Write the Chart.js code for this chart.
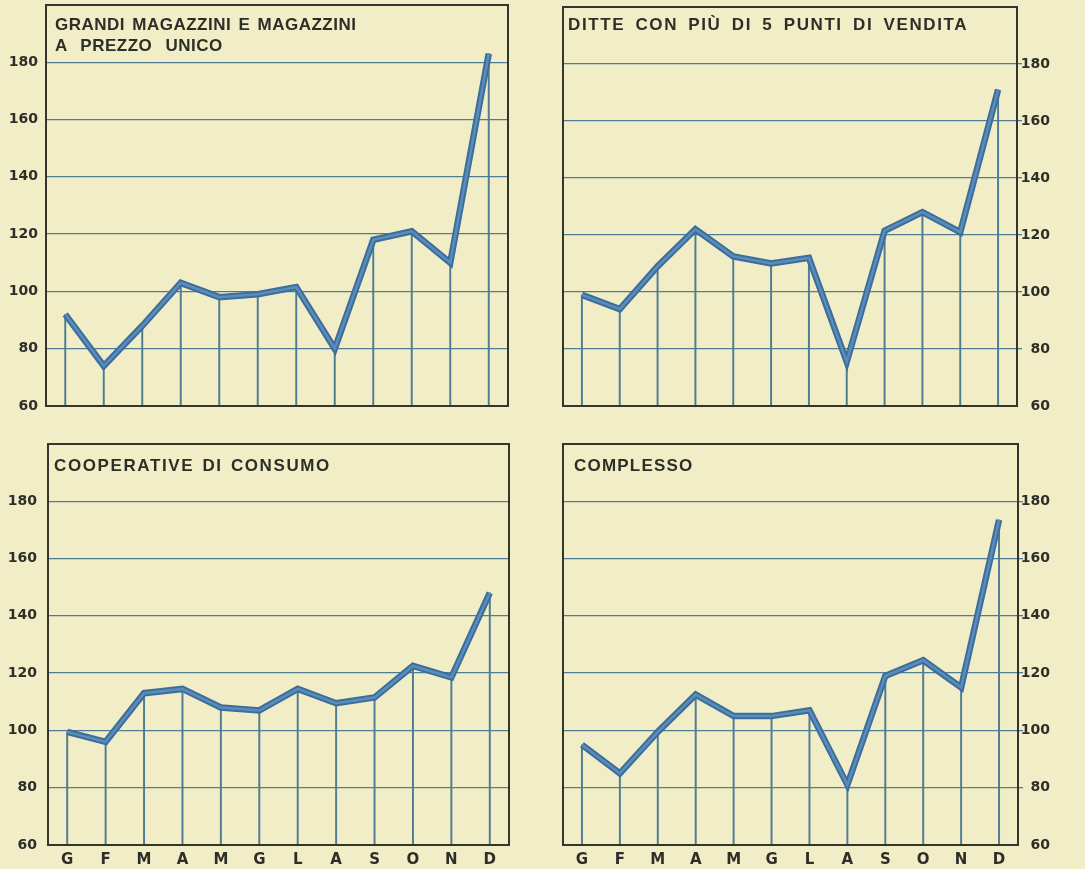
<!DOCTYPE html>
<html>
<head>
<meta charset="utf-8">
<script src="https://cdn.jsdelivr.net/npm/chart.js@4.4.0/dist/chart.umd.min.js"></script>
<style>
  html, body { margin: 0; padding: 0; }
  body { width: 1085px; height: 869px; background: #f1eec7; position: relative; overflow: hidden; }
  .panel { position: absolute; }
  .title {
    position: absolute;
    font-family: "Liberation Sans", Arial, sans-serif;
    font-weight: bold;
    font-size: 17px;
    line-height: 21px;
    color: #2e2e28;
    white-space: nowrap;
  }
</style>
</head>
<body>

<div class="panel" style="left:0;top:0;width:540px;height:430px"><canvas id="c1"></canvas></div>
<div class="panel" style="left:540px;top:0;width:545px;height:430px"><canvas id="c2"></canvas></div>
<div class="panel" style="left:0;top:430px;width:540px;height:439px"><canvas id="c3"></canvas></div>
<div class="panel" style="left:540px;top:430px;width:545px;height:439px"><canvas id="c4"></canvas></div>

<div class="title" style="left:55px;top:14px;letter-spacing:0.5px;word-spacing:2px">GRANDI MAGAZZINI E MAGAZZINI<br><span style="word-spacing:8px">A PREZZO UNICO</span></div>
<div class="title" style="left:568px;top:14px;letter-spacing:1.6px;word-spacing:4px">DITTE CON PIÙ DI 5 PUNTI DI VENDITA</div>
<div class="title" style="left:54px;top:455px;letter-spacing:1.6px;word-spacing:2px">COOPERATIVE DI CONSUMO</div>
<div class="title" style="left:574px;top:455px;letter-spacing:1.2px">COMPLESSO</div>

<script>
'use strict';

// Data (index numbers, monthly)
const months = ['G', 'F', 'M', 'A', 'M', 'G', 'L', 'A', 'S', 'O', 'N', 'D'];
const yMin = 60;
const yMax = 200;
const yStep = 20;

const grandiMagazzini = [92, 74, 88, 103, 98, 99, 101.5, 80, 118, 121, 110, 183];
const ditteCinquePunti = [99, 94, 109, 122, 112.5, 110, 112, 75.5, 121.5, 128, 121, 171];
const cooperative = [99.5, 96, 113, 114.5, 108, 107, 114.5, 109.5, 111.5, 122.5, 118.5, 148];
const complesso = [95, 85, 99.5, 112.5, 105, 105, 107, 81, 119, 124.5, 115, 173.5];

const inkColor = '#2e2e28';
const gridColor = '#4f7c93';
const lineOuter = '#3c6d9b';
const lineInner = '#5b8dbc';

// draws the box round the plot area
const framePlugin = {
  id: 'frame',
  afterDatasetsDraw(chart) {
    const a = chart.chartArea;
    const ctx = chart.ctx;
    ctx.save();
    ctx.strokeStyle = '#35352d';
    ctx.lineWidth = 2;
    ctx.strokeRect(a.left, a.top, a.right - a.left, a.bottom - a.top);
    ctx.restore();
  }
};

function makePanel(id, values, side, showMonths, padding, axisWidth, tickPad) {
  const ctx = document.getElementById(id);
  const rightSide = side === 'right';
  const config = {
    data: {
      labels: months,
      datasets: [
        {
          type: 'line',
          data: values,
          borderColor: lineInner,
          borderWidth: 2.5,
          pointRadius: 0,
          tension: 0,
          order: 0
        },
        {
          type: 'line',
          data: values,
          borderColor: lineOuter,
          borderWidth: 6.5,
          pointRadius: 0,
          tension: 0,
          order: 1
        },
        {
          // drop lines from each month down to the base
          type: 'bar',
          data: values,
          backgroundColor: gridColor,
          barThickness: 1.3,
          order: 2
        }
      ]
    },
    options: {
      responsive: true,
      maintainAspectRatio: false,
      animation: false,
      layout: { padding: padding },
      plugins: {
        legend: { display: false },
        tooltip: { enabled: false }
      },
      scales: {
        x: {
          display: showMonths,
          grid: { display: false, drawTicks: false },
          border: { display: false },
          ticks: {
            padding: 6,
            color: inkColor,
            font: { family: 'DejaVu Sans', weight: 'bold', size: 15 }
          },
          afterFit: function (scale) { scale.height = 24; }
        },
        y: {
          position: side,
          min: yMin,
          max: yMax,
          grid: {
            drawTicks: rightSide,
            tickLength: 5,
            lineWidth: 1.3,
            color: function (c) {
              const v = c.tick.value;
              return (v > yMin && v < yMax) ? gridColor : 'rgba(0,0,0,0)';
            }
          },
          border: { display: false },
          ticks: {
            stepSize: yStep,
            padding: tickPad,
            crossAlign: rightSide ? 'far' : 'near',
            color: inkColor,
            font: { family: 'DejaVu Sans', weight: 'bold', size: 14 },
            callback: function (v) { return v === yMax ? '' : v; }
          },
          afterFit: function (scale) {
            scale.width = axisWidth;
            scale.paddingTop = 0;
            scale.paddingBottom = 0;
          }
        }
      }
    },
    plugins: [framePlugin]
  };
  return new Chart(ctx, config);
}

makePanel('c1', grandiMagazzini, 'left', false, { top: 5, right: 32, bottom: 0, left: 0 }, 46, 8);
makePanel('c2', ditteCinquePunti, 'right', false, { top: 7, right: 35, bottom: 0, left: 23 }, 33, 1);
makePanel('c3', cooperative, 'left', true, { top: 14, right: 31, bottom: 0, left: 0 }, 48, 11);
makePanel('c4', complesso, 'right', true, { top: 14, right: 35, bottom: 0, left: 23 }, 32, 1);
</script>
</body>
</html>
